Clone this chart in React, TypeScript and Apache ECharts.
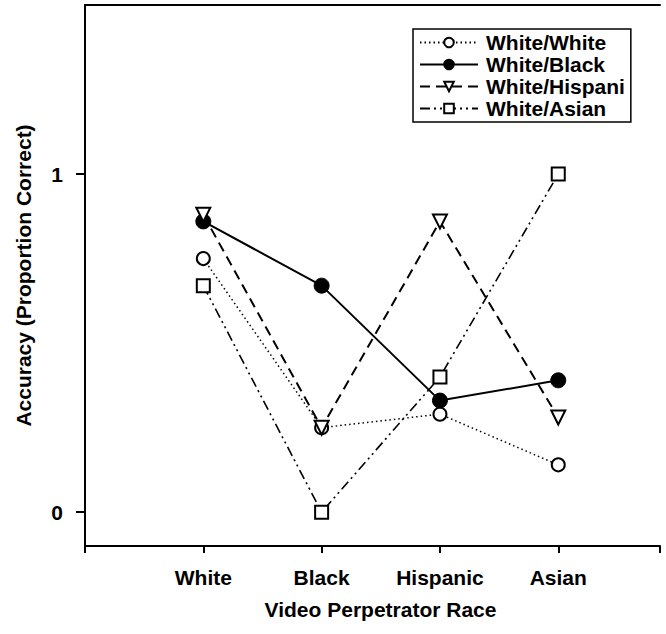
import React, { useEffect, useRef } from "react";
import * as echarts from "echarts";

const categories = ["White", "Black", "Hispanic", "Asian"];
const seriesNames = ["White/White", "White/Black", "White/Hispani", "White/Asian"];
const whiteWhite = [0.75, 0.25, 0.29, 0.14];
const whiteBlack = [0.86, 0.67, 0.33, 0.39];
const whiteHispanic = [0.88, 0.25, 0.86, 0.28];
const whiteAsian = [0.67, 0.0, 0.4, 1.0];
const yTicks = [0, 1];

const FONT = "'Liberation Sans', Arial, Helvetica, sans-serif";

const toPoints = (vals: number[]) => vals.map((v, i) => [i + 1, v]);

export default function App() {
  const ref = useRef<HTMLDivElement>(null);

  useEffect(() => {
    document.body.style.margin = "0";
    if (!ref.current) return;
    const chart = echarts.init(ref.current, undefined, { renderer: "svg" });

    const baseSeries = {
      type: "line" as const,
      xAxisIndex: 0,
      yAxisIndex: 0,
      symbolSize: 13,
      color: "#000",
      z: 3,
    };

    const textBase = { fontSize: 21, fontWeight: "bold" as const, color: "#000", fontFamily: FONT };

    chart.setOption({
      animation: false,
      backgroundColor: "#fff",
      textStyle: { fontFamily: FONT, color: "#000" },
      grid: { left: 85, top: 5, right: 6, bottom: 88, containLabel: false },
      legend: {
        orient: "vertical",
        left: 413,
        top: 29,
        backgroundColor: "#fff",
        borderColor: "#000",
        borderWidth: 1.5,
        borderRadius: 0,
        padding: [3, 6, 3, 6],
        itemGap: 1,
        itemWidth: 58,
        itemHeight: 12,
        textStyle: { ...textBase, padding: [0, 0, 0, 3] },
        data: seriesNames,
      },
      xAxis: [
        {
          type: "value",
          min: 0,
          max: 4.86,
          interval: 1,
          position: "bottom",
          splitLine: { show: false },
          axisLine: { show: true, onZero: false, lineStyle: { color: "#000", width: 2 } },
          axisTick: { show: true, length: 7, inside: false, lineStyle: { color: "#000", width: 2 } },
          axisLabel: {
            ...textBase,
            margin: 21,
            formatter: (v: number) => categories[Math.round(v) - 1] ?? "",
          },
          name: "Video Perpetrator Race",
          nameLocation: "middle",
          nameGap: 53,
          nameTextStyle: { ...textBase, padding: [0, 0, 0, 16] },
        },
        {
          type: "value",
          min: 0,
          max: 4.86,
          position: "top",
          splitLine: { show: false },
          axisLine: { show: true, onZero: false, lineStyle: { color: "#000", width: 2 } },
          axisTick: { show: false },
          axisLabel: { show: false },
        },
      ],
      yAxis: {
        type: "value",
        min: -0.1,
        max: 1.5,
        splitLine: { show: false },
        axisLine: { show: true, onZero: false, lineStyle: { color: "#000", width: 2 } },
        axisTick: {
          show: true,
          length: 9,
          customValues: yTicks,
          lineStyle: { color: "#000", width: 2 },
        },
        axisLabel: {
          ...textBase,
          customValues: yTicks,
          margin: 22,
        },
        name: "Accuracy (Proportion Correct)",
        nameLocation: "middle",
        nameGap: 51,
        nameRotate: 90,
        nameTextStyle: textBase,
      },
      series: [
        {
          ...baseSeries,
          name: seriesNames[0],
          data: toPoints(whiteWhite),
          symbol: "circle",
          itemStyle: { color: "#fff", borderColor: "#000", borderWidth: 2 },
          lineStyle: { color: "#000", width: 1.5, type: [1.5, 3] },
        },
        {
          ...baseSeries,
          name: seriesNames[1],
          data: toPoints(whiteBlack),
          symbol: "circle",
          symbolSize: 15,
          itemStyle: { color: "#000", borderColor: "#000", borderWidth: 1 },
          lineStyle: { color: "#000", width: 2 },
        },
        {
          ...baseSeries,
          name: seriesNames[2],
          data: toPoints(whiteHispanic),
          symbol: "triangle",
          symbolRotate: 180,
          symbolSize: 14,
          itemStyle: { color: "#fff", borderColor: "#000", borderWidth: 2 },
          lineStyle: { color: "#000", width: 2, type: [10, 6] },
        },
        {
          ...baseSeries,
          name: seriesNames[3],
          data: toPoints(whiteAsian),
          symbol: "rect",
          symbolSize: 13,
          itemStyle: { color: "#fff", borderColor: "#000", borderWidth: 2 },
          lineStyle: { color: "#000", width: 1.6, type: [10, 4, 2, 4, 2, 4] },
        },
      ],
    });

    return () => chart.dispose();
  }, []);

  return <div ref={ref} style={{ width: 666, height: 634 }} />;
}
